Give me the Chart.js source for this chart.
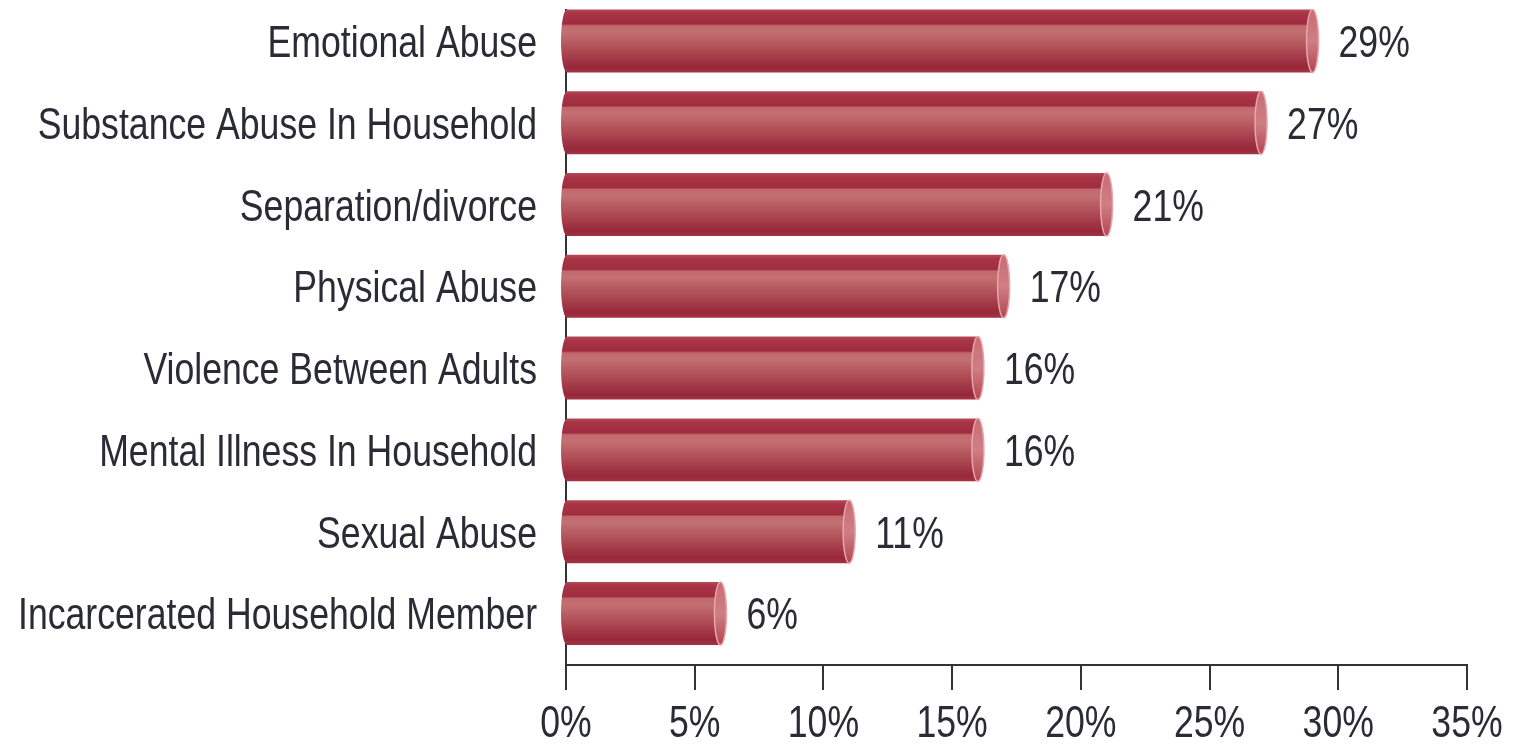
<!DOCTYPE html>
<html>
<head>
<meta charset="utf-8">
<title>Adverse Childhood Experiences</title>
<script src="https://cdn.jsdelivr.net/npm/chart.js@4/dist/chart.umd.min.js"></script>
<style>
  html, body { margin: 0; padding: 0; background: #ffffff; }
  #wrap { width: 1535px; height: 744px; position: relative; }
</style>
</head>
<body>
<div id="wrap"><canvas id="chart" width="1535" height="744"></canvas></div>
<script>
// Share of respondents reporting each type of adverse experience
const categories = [
  'Emotional Abuse',
  'Substance Abuse In Household',
  'Separation/divorce',
  'Physical Abuse',
  'Violence Between Adults',
  'Mental Illness In Household',
  'Sexual Abuse',
  'Incarcerated Household Member'
];
const percentages = [29, 27, 21, 17, 16, 16, 11, 6];
const xTicks = [0, 5, 10, 15, 20, 25, 30, 35];

const FONT = '44px "Liberation Sans", Arial, sans-serif';
const SQUEEZE = 0.81;          // horizontal condensing of all text
const CAP = 16;                // half cap height, to centre text on a point
const TEXT = '#2a2b35';
const AXIS = '#333333';

// Draws condensed text with its baseline at y
function narrowText(ctx, text, x, y, align) {
  ctx.save();
  ctx.translate(x, y);
  ctx.scale(SQUEEZE, 1);
  ctx.font = FONT;
  ctx.fillStyle = TEXT;
  ctx.textAlign = align;
  ctx.textBaseline = 'alphabetic';
  ctx.fillText(text, 0, 0);
  ctx.restore();
}

// Condensed tick labels for both axes, placed from the scales
const narrowTicks = {
  id: 'narrowTicks',
  afterDraw(chart) {
    const ctx = chart.ctx;
    const { x, y } = chart.scales;
    y.ticks.forEach(t => {
      narrowText(ctx, categories[t.value], y.right - 29, y.getPixelForValue(t.value) + CAP, 'right');
    });
    x.ticks.forEach(t => {
      narrowText(ctx, t.value + '%', x.getPixelForValue(t.value), x.top + 72, 'center');
    });
  }
};

// Cylinder-style bars with a lit end cap, plus value labels
const cylinderBars = {
  id: 'cylinderBars',
  afterDatasetsDraw(chart) {
    const ctx = chart.ctx;
    const meta = chart.getDatasetMeta(0);
    meta.data.forEach((bar, i) => {
      const { x, y, base, height } = bar.getProps(['x', 'y', 'base', 'height'], true);
      const top = y - height / 2, bottom = y + height / 2;
      const rl = 6, rc = 6;

      const body = ctx.createLinearGradient(0, top, 0, bottom);
      body.addColorStop(0.00, '#b44a58');
      body.addColorStop(0.06, '#a83545');
      body.addColorStop(0.23, '#9f2d3f');
      body.addColorStop(0.26, '#c2686d');
      body.addColorStop(0.36, '#c37071');
      body.addColorStop(0.68, '#ab4651');
      body.addColorStop(0.92, '#97273a');
      body.addColorStop(1.00, '#a33545');

      ctx.save();
      ctx.beginPath();
      ctx.moveTo(base, top);
      ctx.lineTo(x, top);
      ctx.ellipse(x, y, rc, height / 2, 0, -Math.PI / 2, Math.PI / 2);
      ctx.lineTo(base, bottom);
      ctx.ellipse(base, y, rl, height / 2, 0, Math.PI / 2, Math.PI * 1.5);
      ctx.closePath();
      ctx.fillStyle = body;
      ctx.fill();

      // end cap
      const cap = ctx.createLinearGradient(0, top, 0, bottom);
      cap.addColorStop(0, '#c86c74');
      cap.addColorStop(0.5, '#cf7e84');
      cap.addColorStop(1, '#b24652');
      ctx.beginPath();
      ctx.ellipse(x, y, rc, height / 2, 0, 0, Math.PI * 2);
      ctx.fillStyle = cap;
      ctx.fill();
      ctx.lineWidth = 1.5;
      ctx.strokeStyle = '#e9a6aa';
      ctx.stroke();
      ctx.restore();

      // value label
      narrowText(ctx, percentages[i] + '%', x + rc + 20, y + CAP, 'left');
    });
  }
};

new Chart(document.getElementById('chart'), {
  type: 'bar',
  data: {
    datasets: [{
      data: percentages.map((v, i) => ({ x: v, y: i })),
      backgroundColor: 'rgba(0,0,0,0)',
      borderWidth: 0,
      barPercentage: 0.77,
      categoryPercentage: 1
    }]
  },
  options: {
    indexAxis: 'y',
    responsive: false,
    animation: false,
    devicePixelRatio: 1,
    layout: { padding: { left: 0, right: 68, top: 10, bottom: 0 } },
    plugins: { legend: { display: false }, tooltip: { enabled: false } },
    scales: {
      x: {
        type: 'linear',
        min: 0,
        max: 35,
        afterBuildTicks: s => { s.ticks = xTicks.map(v => ({ value: v })); },
        afterFit: s => { s.height = 79; },
        ticks: { display: false },
        grid: { drawOnChartArea: false, drawTicks: true, tickLength: 25, color: AXIS, lineWidth: 2 },
        border: { display: true, color: AXIS, width: 2 }
      },
      y: {
        type: 'linear',
        offset: false,
        reverse: true,
        min: -0.378,
        max: 7.63,
        afterBuildTicks: s => { s.ticks = categories.map((_, i) => ({ value: i })); },
        afterFit: s => { s.width = 566; },
        ticks: { display: false },
        grid: { display: false, drawTicks: false, offset: false },
        border: { display: true, color: AXIS, width: 2 }
      }
    }
  },
  plugins: [cylinderBars, narrowTicks]
});
</script>
</body>
</html>
